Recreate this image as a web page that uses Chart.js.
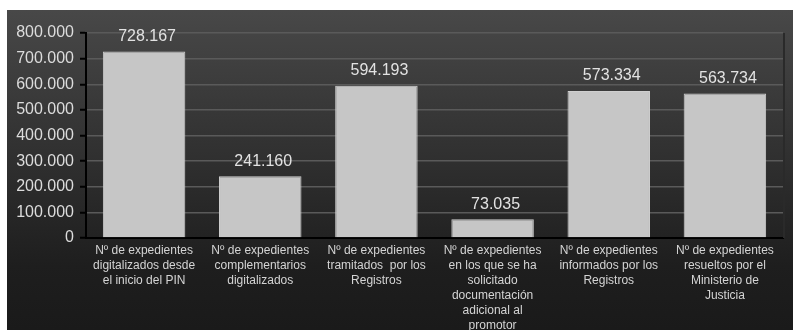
<!DOCTYPE html>
<html>
<head>
<meta charset="utf-8">
<script src="https://cdn.jsdelivr.net/npm/chart.js@4/dist/chart.umd.min.js"></script>
<style>
  html, body { margin: 0; padding: 0; background: #ffffff; }
  #wrap {
    position: absolute; left: 7px; top: 10px; width: 786px; height: 320px;
    background: linear-gradient(to bottom, #484848 0%, #333333 40%, #1e1e1e 80%, #1a1a1a 100%);
  }
</style>
</head>
<body>
<div id="wrap"><canvas id="c" width="786" height="320"></canvas></div>
<script>
const categories = [
  ["Nº de expedientes", "digitalizados desde", "el inicio del PIN"],
  ["Nº de expedientes", "complementarios", "digitalizados"],
  ["Nº de expedientes", "tramitados  por los", "Registros"],
  ["Nº de expedientes", "en los que se ha", "solicitado", "documentación", "adicional al", "promotor"],
  ["Nº de expedientes", "informados por los", "Registros"],
  ["Nº de expedientes", "resueltos por el", "Ministerio de", "Justicia"]
];
const expedientes = [728167, 241160, 594193, 73035, 573334, 563734];
const yTicks = [0, 100000, 200000, 300000, 400000, 500000, 600000, 700000, 800000];

const fmt = v => v.toLocaleString('de-DE');

// value labels above each bar
const valueLabels = {
  id: 'valueLabels',
  afterDatasetsDraw(chart) {
    const ctx = chart.ctx;
    const meta = chart.getDatasetMeta(0);
    ctx.save();
    ctx.font = '16px "Liberation Sans", Arial, sans-serif';
    ctx.fillStyle = '#e2e2e2';
    ctx.textAlign = 'center';
    ctx.textBaseline = 'middle';
    meta.data.forEach((bar, i) => {
      ctx.fillText(fmt(expedientes[i]), bar.x + 3, bar.y - 15);
    });
    ctx.restore();
  }
};

// thin frame on the right of the plot area
const plotFrame = {
  id: 'plotFrame',
  beforeDatasetsDraw(chart) {
    const a = chart.chartArea, ctx = chart.ctx;
    ctx.save();
    ctx.strokeStyle = '#2a2a2a';
    ctx.lineWidth = 2;
    ctx.beginPath();
    ctx.moveTo(a.right + 1, a.top);
    ctx.lineTo(a.right + 1, a.bottom);
    ctx.stroke();
    ctx.restore();
  }
};

new Chart(document.getElementById('c'), {
  type: 'bar',
  data: {
    labels: categories,
    datasets: [{
      data: expedientes,
      backgroundColor: '#c6c6c6',
      borderColor: '#cfcfcf',
      borderWidth: 1,
      categoryPercentage: 1,
      barPercentage: 0.71
    }]
  },
  options: {
    responsive: false,
    animation: false,
    layout: { padding: { top: 23, right: 10, left: 0, bottom: 0 } },
    plugins: { legend: { display: false }, tooltip: { enabled: false } },
    scales: {
      x: {
        grid: { display: false, drawTicks: false },
        border: { color: '#000000', width: 2 },
        ticks: {
          color: '#d4d4d4',
          font: { family: '"Liberation Sans", Arial, sans-serif', size: 12, lineHeight: 1.25 },
          maxRotation: 0, autoSkip: false, padding: 5
        },
        afterFit(scale) { scale.height = 92; }
      },
      y: {
        min: 0, max: 800000,
        afterBuildTicks(scale) { scale.ticks = yTicks.map(v => ({ value: v })); },
        grid: {
          color: '#5a5a5a', lineWidth: 1.5,
          drawTicks: true, tickLength: 6, tickColor: '#000000', tickWidth: 2
        },
        border: { color: '#000000', width: 2 },
        ticks: {
          color: '#dcdcdc',
          font: { family: '"Liberation Sans", Arial, sans-serif', size: 16 },
          padding: 6,
          callback: v => fmt(v)
        },
        afterFit(scale) { scale.width = 79; }
      }
    }
  },
  plugins: [valueLabels, plotFrame]
});
</script>
</body>
</html>
